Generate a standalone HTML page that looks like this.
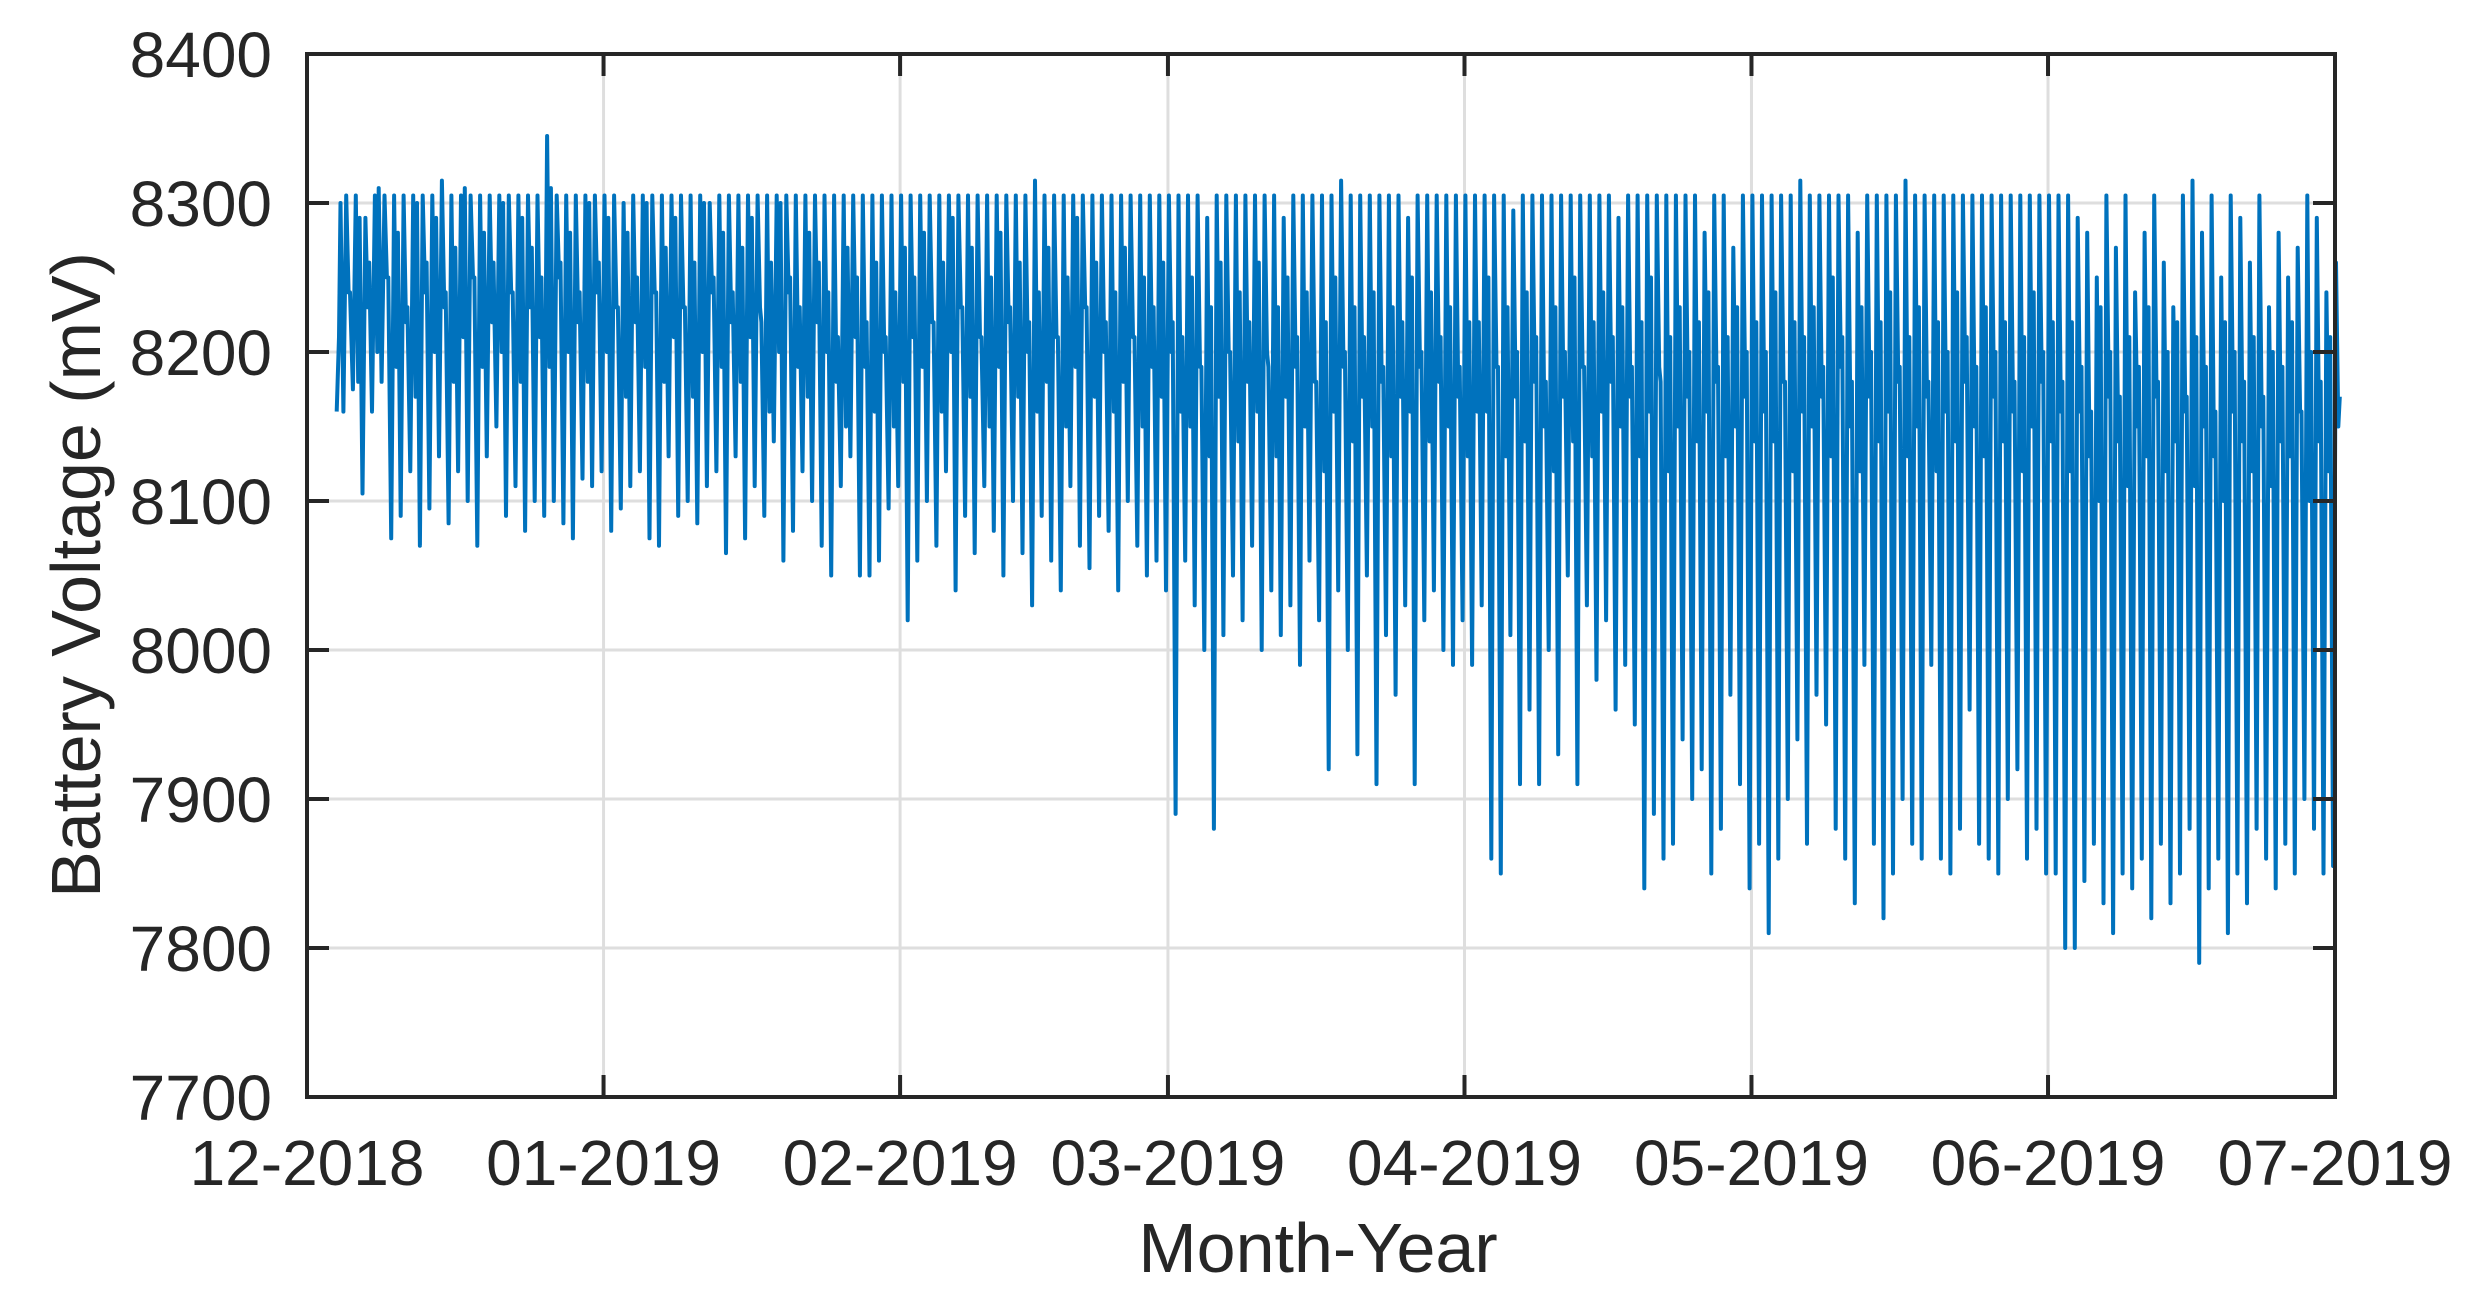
<!DOCTYPE html>
<html><head><meta charset="utf-8"><style>
html,body{margin:0;padding:0;background:#fff;}
svg{display:block;font-family:"Liberation Sans",Arial,sans-serif;}
</style></head><body>
<svg id="chart" width="2472" height="1307" viewBox="0 0 2472 1307" xmlns="http://www.w3.org/2000/svg">
<rect x="0" y="0" width="2472" height="1307" fill="#fff"/>
<g id="grid"></g>
<g id="series"></g>
<g id="axes"></g>
<text x="1318" y="1272" font-size="70" text-anchor="middle" fill="#262626">Month-Year</text>
<text transform="translate(100,575) rotate(-90)" font-size="70" text-anchor="middle" fill="#262626">Battery Voltage (mV)</text>
</svg>
<script>
const yTicks = [7700,7800,7900,8000,8100,8200,8300,8400];
const xTickLabels = ["12-2018","01-2019","02-2019","03-2019","04-2019","05-2019","06-2019","07-2019"];
const xTickDays = [0,31,62,90,121,151,182,212];
const startDay = 3;
const hi = [
8160,8305,8305,8290,8305,8305,8305,8305,8305,8305,8305,8315,8305,8305,8305,8305,8305,8305,8305,8305,8305,8305,8345,8305,8305,8305,8305,8305,
8305,8305,8300,8305,8305,8305,8305,8305,8305,8305,8305,8300,8305,8305,8305,8305,8305,8305,8305,8305,8305,8305,8305,8305,8305,8305,8305,8305,8305,8305,8305,8305,8305,
8305,8305,8305,8305,8305,8305,8305,8305,8305,8305,8305,8305,8315,8305,8305,8305,8305,8305,8305,8305,8305,8305,8305,8305,8305,8305,8305,8305,
8305,8305,8290,8305,8305,8305,8305,8305,8305,8305,8290,8305,8305,8305,8305,8305,8315,8305,8305,8305,8305,8305,8305,8290,8305,8305,8305,8305,8305,8305,8305,
8305,8305,8305,8295,8305,8305,8305,8305,8305,8305,8305,8305,8305,8305,8290,8305,8305,8305,8305,8305,8305,8305,8305,8280,8305,8305,8270,8305,8305,8305,
8305,8305,8305,8315,8305,8305,8305,8305,8305,8280,8305,8305,8305,8305,8315,8305,8305,8305,8305,8305,8305,8305,8305,8305,8305,8305,8305,8305,8305,8305,8305,
8305,8290,8280,8250,8305,8270,8305,8240,8280,8305,8260,8230,8305,8315,8280,8305,8250,8305,8290,8260,8305,8230,8280,8250,8270,8305,8290,8240,8260,8230
];
const mid = [
8210,8240,8180,8230,8200,8250,8190,8220,8170,8240,8200,8230,8180,8210,8250,8190,8220,8200,8240,8180,8230,8210,8190,8250,8200,8220,8180,8240,
8200,8230,8170,8220,8190,8240,8180,8210,8230,8170,8200,8240,8190,8220,8180,8210,8230,8160,8200,8240,8190,8170,8220,8200,8180,8150,8210,8190,8160,8200,8150,8180,8210,
8190,8220,8160,8200,8230,8170,8210,8150,8190,8220,8170,8200,8160,8180,8210,8150,8190,8230,8170,8200,8160,8180,8210,8150,8190,8170,8200,8160,
8150,8190,8130,8170,8200,8140,8180,8160,8200,8130,8170,8190,8150,8180,8120,8160,8190,8140,8170,8150,8180,8130,8170,8160,8190,8140,8180,8150,8170,8130,8160,
8160,8190,8130,8170,8140,8180,8150,8120,8170,8140,8190,8130,8160,8180,8150,8170,8130,8160,8190,8120,8150,8170,8140,8160,8180,8130,8150,8170,8140,8160,
8140,8180,8120,8160,8150,8170,8130,8190,8150,8120,8170,8140,8160,8180,8130,8150,8170,8120,8160,8140,8180,8150,8130,8170,8140,8160,8120,8150,8180,8140,8160,
8120,8160,8130,8100,8170,8140,8110,8150,8130,8170,8120,8140,8160,8110,8150,8130,8100,8160,8140,8120,8150,8110,8140,8130,8160,8100,8140,8120,8150,8110
];
const lo = [
8160,8175,8105,8160,8180,8075,8090,8120,8070,8095,8130,8085,8120,8100,8070,8130,8150,8090,8110,8080,8100,8090,8100,8085,8075,8115,8110,8120,
8080,8095,8110,8120,8075,8070,8130,8090,8100,8085,8110,8120,8065,8130,8075,8110,8090,8140,8060,8080,8120,8100,8070,8050,8110,8130,8050,8050,8060,8095,8110,
8020,8060,8100,8070,8120,8040,8090,8065,8110,8080,8050,8100,8065,8030,8090,8060,8040,8110,8070,8055,8090,8080,8040,8100,8070,8050,8060,8040,
7890,8060,8030,8000,7880,8010,8050,8020,8070,8000,8040,8010,8030,7990,8060,8020,7920,8040,8000,7930,8050,7910,8010,7970,8030,7910,8020,8040,8000,7990,8020,
7990,8030,7860,7850,8010,7910,7960,7910,8000,7930,8050,7910,8030,7980,8020,7960,7990,7950,7840,7890,7860,7870,7940,7900,7920,7850,7880,7970,7910,7840,
7870,7810,7860,7900,7940,7870,7970,7950,7880,7860,7830,7990,7870,7820,7850,7900,7870,7860,7990,7860,7850,7880,7960,7870,7860,7850,7900,7920,7860,7880,7850,
7850,7800,7800,7845,7870,7830,7810,7850,7840,7860,7820,7870,7830,7850,7880,7790,7840,7860,7810,7850,7830,7880,7860,7840,7870,7850,7900,7880,7850,7855
];
const NS="http://www.w3.org/2000/svg";
const L=307,R=2335,T=54,B=1097,D0=0,D1=212,V0=7700,V1=8400;
function xs(d){return L+(d-D0)/(D1-D0)*(R-L);}
function ys(v){return B-(v-V0)/(V1-V0)*(B-T);}
function mk(tag,attrs,parent){const e=document.createElementNS(NS,tag);for(const k in attrs)e.setAttribute(k,attrs[k]);parent.appendChild(e);return e;}
const grid=document.getElementById('grid'),axes=document.getElementById('axes'),series=document.getElementById('series');
yTicks.forEach((v,i)=>{
  const g=mk('line',{x1:L,x2:R,y1:ys(v),y2:ys(v),stroke:'#dedede','stroke-width':3},grid);
  
  
  const t1=mk('line',{x1:L,x2:L+22,y1:ys(v),y2:ys(v),stroke:'#262626','stroke-width':4},axes);
  
  
  const t2=mk('line',{x1:R-22,x2:R,y1:ys(v),y2:ys(v),stroke:'#262626','stroke-width':4},axes);
  
  
  const lb=mk('text',{x:272,y:ys(v)+23,'font-size':64,'text-anchor':'end',fill:'#262626'},axes);
  lb.textContent=String(v);
  
  
});
xTickDays.forEach((d,i)=>{
  const g=mk('line',{x1:xs(d),x2:xs(d),y1:T,y2:B,stroke:'#dedede','stroke-width':3},grid);
  
  
  const t1=mk('line',{x1:xs(d),x2:xs(d),y1:B-22,y2:B,stroke:'#262626','stroke-width':4},axes);
  
  
  const t2=mk('line',{x1:xs(d),x2:xs(d),y1:T,y2:T+22,stroke:'#262626','stroke-width':4},axes);
  
  
  const lb=mk('text',{x:xs(d),y:1185,'font-size':64,'text-anchor':'middle',fill:'#262626'},axes);
  lb.textContent=xTickLabels[i];
  
  
});
const box=mk('rect',{x:L,y:T,width:R-L,height:B-T,fill:'none',stroke:'#262626','stroke-width':4},axes);


let pts=[];
for(let i=0;i<hi.length;i++){
  const d=startDay+i;
  pts.push(xs(d+0.1).toFixed(1)+','+ys(hi[i]).toFixed(1));
  pts.push(xs(d+0.35).toFixed(1)+','+ys(mid[i]).toFixed(1));
  pts.push(xs(d+0.5).toFixed(1)+','+ys(mid[(i+1)%mid.length]+60).toFixed(1));
  pts.push(xs(d+0.8).toFixed(1)+','+ys(lo[i]).toFixed(1));
}
const line=mk('polyline',{points:pts.join(' '),fill:'none',stroke:'#0072BD','stroke-width':4,'stroke-linejoin':'round'},series);


</script>
</body></html>
